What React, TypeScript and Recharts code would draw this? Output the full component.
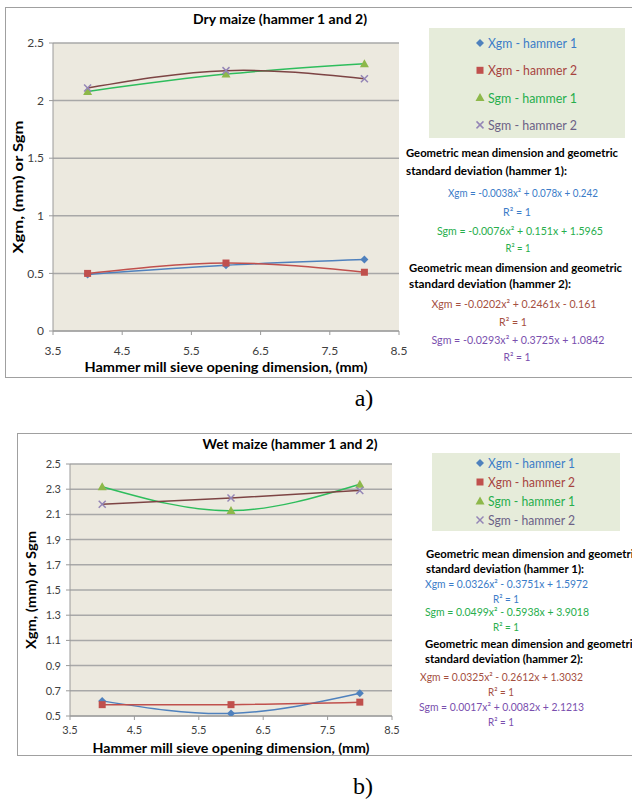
import React from 'react';
import { LineChart, Line, XAxis, YAxis, CartesianGrid, Legend } from 'recharts';

// sieve opening dimension (mm)
const sieveSizes = [4, 6, 8];
const xTicks = [3.5, 4.5, 5.5, 6.5, 7.5, 8.5];

// dry maize
const dryXgmHammer1 = [0.49, 0.57, 0.62];
const dryXgmHammer2 = [0.5, 0.59, 0.51];
const drySgmHammer1 = [2.08, 2.23, 2.32];
const drySgmHammer2 = [2.11, 2.26, 2.19];
const dryYTicks = [0, 0.5, 1, 1.5, 2, 2.5];

// wet maize
const wetXgmHammer1 = [0.62, 0.52, 0.68];
const wetXgmHammer2 = [0.59, 0.59, 0.61];
const wetSgmHammer1 = [2.32, 2.13, 2.34];
const wetSgmHammer2 = [2.18, 2.23, 2.29];
const wetYTicks = [0.5, 0.7, 0.9, 1.1, 1.3, 1.5, 1.7, 1.9, 2.1, 2.3, 2.5];

const seriesNames = ['Xgm - hammer 1', 'Xgm - hammer 2', 'Sgm - hammer 1', 'Sgm - hammer 2'];
const dryEquations = [
  'Xgm = -0.0038x\u00b2 + 0.078x + 0.242',
  'Sgm = -0.0076x\u00b2 + 0.151x + 1.5965',
  'Xgm = -0.0202x\u00b2 + 0.2461x - 0.161',
  'Sgm = -0.0293x\u00b2 + 0.3725x + 1.0842',
];
const wetEquations = [
  'Xgm = 0.0326x\u00b2 - 0.3751x + 1.5972',
  'Sgm = 0.0499x\u00b2 - 0.5938x + 3.9018',
  'Xgm = 0.0325x\u00b2 - 0.2612x + 1.3032',
  'Sgm = 0.0017x\u00b2 + 0.0082x + 2.1213',
];

const FONT = 'Lato, "Liberation Sans", sans-serif';

const SERIES = [
  { key: 'xgm1', stroke: '#4f81bd', mark: '#4f81bd', text: '#3b7cc8', shape: 'diamond' },
  { key: 'xgm2', stroke: '#c0504d', mark: '#c0504d', text: '#a6433e', shape: 'square' },
  { key: 'sgm1', stroke: '#2ebd5c', mark: '#8db84a', text: '#27ae4c', shape: 'triangle' },
  { key: 'sgm2', stroke: '#7d4444', mark: '#9485b6', text: '#6c6286', shape: 'cross' },
];
const eqColors = ['#3b7cc8', '#27ae4c', '#a5503f', '#7a4fae'];

const toRows = (a: number[], b: number[], c: number[], d: number[]) =>
  sieveSizes.map((x, i) => ({ x, xgm1: a[i], xgm2: b[i], sgm1: c[i], sgm2: d[i] }));

const dryRows = toRows(dryXgmHammer1, dryXgmHammer2, drySgmHammer1, drySgmHammer2);
const wetRows = toRows(wetXgmHammer1, wetXgmHammer2, wetSgmHammer1, wetSgmHammer2);

const Marker = ({ cx, cy, shape, color }: any) => {
  if (cx == null || cy == null) return null;
  if (shape === 'diamond')
    return <polygon points={`${cx},${cy - 4} ${cx + 4},${cy} ${cx},${cy + 4} ${cx - 4},${cy}`} fill={color} />;
  if (shape === 'square') return <rect x={cx - 3.5} y={cy - 3.5} width={7} height={7} fill={color} />;
  if (shape === 'triangle')
    return <polygon points={`${cx},${cy - 4.5} ${cx + 4.5},${cy + 3.5} ${cx - 4.5},${cy + 3.5}`} fill={color} />;
  return (
    <g stroke={color} strokeWidth={1.5}>
      <line x1={cx - 3.5} y1={cy - 3.5} x2={cx + 3.5} y2={cy + 3.5} />
      <line x1={cx - 3.5} y1={cy + 3.5} x2={cx + 3.5} y2={cy - 3.5} />
    </g>
  );
};

const AxisTitle = ({ px, py, vertical, text, len, size }: any) => (
  <text
    x={px}
    y={py}
    transform={vertical ? `rotate(-90, ${px}, ${py})` : undefined}
    textAnchor="middle"
    dominantBaseline="central"
    fontFamily={FONT}
    fontWeight="bold"
    fontSize={size || 14}
    fill="#000"
    textLength={len}
    lengthAdjust="spacingAndGlyphs"
  >
    {text}
  </text>
);

type Txt = { t: string; x: number; y: number; len: number; color?: string; bold?: boolean; anchor?: string; size?: number };

const makeLegend = (w: number, h: number, firstY: number, gap: number, markX: number, textLen: number) => () => (
  <svg width={w} height={h} style={{ display: 'block' }}>
    <rect x={0} y={0} width={w} height={h} fill="#e6ecda" />
    {SERIES.map((s, i) => (
      <g key={s.key}>
        <Marker cx={markX} cy={firstY + i * gap} shape={s.shape} color={s.mark} />
        <text
          x={markX + 8}
          y={firstY + i * gap}
          dominantBaseline="central"
          fontFamily={FONT}
          fontSize={13}
          fill={s.text}
          textLength={textLen}
          lengthAdjust="spacingAndGlyphs"
        >
          {seriesNames[i]}
        </text>
      </g>
    ))}
  </svg>
);

type PanelProps = {
  rows: any[];
  top: number;
  height: number;
  margin: { top: number; right: number; bottom: number; left: number };
  yWidth: number;
  yDomain: [number, number];
  yTicks: number[];
  yFormat: (v: number) => string;
  tickFont: number;
  xTickMargin: number;
  yTitle: { x: number; len: number };
  xTitle: { y: number; len: number; size: number };
  legendBox: { left: number; top: number; w: number; h: number; firstY: number; gap: number; markX: number; textLen: number };
};

const Panel = (p: PanelProps) => {
  const plotH = p.height - p.margin.top - p.margin.bottom - 30;
  const plotW = 632 - p.margin.left - p.margin.right - p.yWidth;
  const tickStyle = { fontFamily: FONT, fontSize: p.tickFont, fill: '#404040' };
  return (
    <div style={{ position: 'absolute', left: 0, top: p.top }}>
      <LineChart width={632} height={p.height} data={p.rows} margin={p.margin}>
        <CartesianGrid vertical={false} stroke="#a8a8a8" strokeWidth={1.5} fill="#ece9df" fillOpacity={1} />
        <XAxis
          type="number"
          dataKey="x"
          domain={[3.5, 8.5]}
          ticks={xTicks}
          allowDataOverflow
          height={30}
          stroke="#9a9a9a"
          tickSize={4}
          tickMargin={p.xTickMargin}
          tick={tickStyle}
          tickFormatter={(v: number) => v.toFixed(1)}
          label={
            <AxisTitle
              px={p.yWidth + p.margin.left + plotW / 2}
              py={p.xTitle.y}
              text="Hammer mill sieve opening  dimension, (mm)"
              len={p.xTitle.len}
              size={p.xTitle.size}
            />
          }
        />
        <YAxis
          type="number"
          domain={p.yDomain}
          ticks={p.yTicks}
          allowDataOverflow
          width={p.yWidth}
          stroke="#9a9a9a"
          tickSize={4}
          tickMargin={5}
          tick={tickStyle}
          tickFormatter={p.yFormat}
          label={
            <AxisTitle
              px={p.yTitle.x}
              py={p.margin.top + plotH / 2}
              vertical
              text="Xgm, (mm) or Sgm"
              len={p.yTitle.len}
            />
          }
        />
        <Legend
          layout="vertical"
          align="center"
          verticalAlign="middle"
          wrapperStyle={{ left: p.legendBox.left, top: p.legendBox.top, width: p.legendBox.w, height: p.legendBox.h }}
          content={makeLegend(
            p.legendBox.w,
            p.legendBox.h,
            p.legendBox.firstY,
            p.legendBox.gap,
            p.legendBox.markX,
            p.legendBox.textLen
          )}
        />
        {SERIES.map((s, i) => (
          <Line
            key={s.key}
            type="natural"
            dataKey={s.key}
            name={seriesNames[i]}
            stroke={s.stroke}
            strokeWidth={1.5}
            isAnimationActive={false}
            activeDot={false}
            dot={(d: any) => <Marker key={`${s.key}-${d.index}`} cx={d.cx} cy={d.cy} shape={s.shape} color={s.mark} />}
          />
        ))}
      </LineChart>
    </div>
  );
};

const overlayTexts: Txt[] = [
  // a) dry maize
  { t: 'Dry maize (hammer 1 and 2)', x: 280, y: 19, len: 174, bold: true, anchor: 'middle', size: 13.5 },
  { t: 'Geometric mean dimension and geometric', x: 406, y: 152, len: 212, bold: true },
  { t: 'standard  deviation (hammer 1):', x: 406, y: 170, len: 161, bold: true },
  { t: dryEquations[0], x: 523, y: 193, len: 150, color: eqColors[0], anchor: 'middle' },
  { t: 'R\u00b2 = 1', x: 517, y: 212, len: 28, color: eqColors[0], anchor: 'middle' },
  { t: dryEquations[1], x: 520, y: 231, len: 166, color: eqColors[1], anchor: 'middle' },
  { t: 'R\u00b2 = 1', x: 518, y: 248, len: 25, color: eqColors[1], anchor: 'middle' },
  { t: 'Geometric mean dimension and geometric', x: 409, y: 267, len: 213, bold: true },
  { t: 'standard  deviation (hammer 2):', x: 409, y: 283, len: 162, bold: true },
  { t: dryEquations[2], x: 514, y: 304, len: 165, color: eqColors[2], anchor: 'middle' },
  { t: 'R\u00b2 = 1', x: 513, y: 322, len: 28, color: eqColors[2], anchor: 'middle' },
  { t: dryEquations[3], x: 518, y: 340, len: 173, color: eqColors[3], anchor: 'middle' },
  { t: 'R\u00b2 = 1', x: 517, y: 357, len: 27, color: eqColors[3], anchor: 'middle' },
  // b) wet maize
  { t: 'Wet maize (hammer 1 and 2)', x: 290, y: 444, len: 175, bold: true, anchor: 'middle', size: 13.5 },
  { t: 'Geometric mean dimension and geometric', x: 426, y: 553, len: 213, bold: true },
  { t: 'standard  deviation (hammer 1):', x: 426, y: 568, len: 158, bold: true },
  { t: wetEquations[0], x: 425, y: 584, len: 163, color: eqColors[0] },
  { t: 'R\u00b2 = 1', x: 506, y: 599, len: 26, color: eqColors[0], anchor: 'middle' },
  { t: wetEquations[1], x: 425, y: 612, len: 164, color: eqColors[1] },
  { t: 'R\u00b2 = 1', x: 506, y: 627, len: 26, color: eqColors[1], anchor: 'middle' },
  { t: 'Geometric mean dimension and geometric', x: 425, y: 643, len: 213, bold: true },
  { t: 'standard  deviation (hammer 2):', x: 425, y: 658, len: 158, bold: true },
  { t: wetEquations[2], x: 420, y: 677, len: 163, color: eqColors[2] },
  { t: 'R\u00b2 = 1', x: 501, y: 692, len: 26, color: eqColors[2], anchor: 'middle' },
  { t: wetEquations[3], x: 419, y: 707, len: 165, color: eqColors[3] },
  { t: 'R\u00b2 = 1', x: 501, y: 722, len: 26, color: eqColors[3], anchor: 'middle' },
];

export default function App() {
  return (
    <div
      style={{
        position: 'absolute',
        left: 0,
        top: 0,
        width: 632,
        height: 801,
        overflow: 'hidden',
        background: '#fff',
      }}
    >
      <div style={{ position: 'absolute', left: 5, top: 7, width: 640, height: 369, border: '1.5px solid #a0a0a0' }} />
      <div style={{ position: 'absolute', left: 17, top: 433, width: 640, height: 321, border: '1.5px solid #a0a0a0' }} />

      <Panel
        rows={dryRows}
        top={0}
        height={380}
        margin={{ top: 43, right: 233, bottom: 19, left: 0 }}
        yWidth={53}
        yDomain={[0, 2.5]}
        yTicks={dryYTicks}
        yFormat={(v) => String(v)}
        tickFont={12}
        xTickMargin={11}
        yTitle={{ x: 17, len: 133 }}
        xTitle={{ y: 366, len: 283, size: 14 }}
        legendBox={{ left: 429, top: 28, w: 196, h: 110, firstY: 15, gap: 27.3, markX: 51, textLen: 89 }}
      />
      <Panel
        rows={wetRows}
        top={420}
        height={381}
        margin={{ top: 44, right: 240, bottom: 55, left: 0 }}
        yWidth={70}
        yDomain={[0.5, 2.5]}
        yTicks={wetYTicks}
        yFormat={(v) => v.toFixed(1)}
        tickFont={11}
        xTickMargin={6}
        yTitle={{ x: 30, len: 118 }}
        xTitle={{ y: 327.5, len: 277, size: 13 }}
        legendBox={{ left: 432, top: 33, w: 188, h: 78, firstY: 10, gap: 19, markX: 48, textLen: 87 }}
      />

      <svg width={632} height={801} style={{ position: 'absolute', left: 0, top: 0, pointerEvents: 'none' }}>
        {overlayTexts.map((o, i) => (
          <text
            key={i}
            x={o.x}
            y={o.y}
            textAnchor={(o.anchor as any) || 'start'}
            dominantBaseline="central"
            fontFamily={FONT}
            fontWeight={o.bold ? 'bold' : 'normal'}
            fontSize={o.size || (o.bold ? 11 : 10.5)}
            fill={o.color || '#000'}
            textLength={o.len}
            lengthAdjust="spacingAndGlyphs"
          >
            {o.t}
          </text>
        ))}
        <text x={364} y={398} textAnchor="middle" dominantBaseline="central" fontFamily='"Liberation Serif", serif' fontSize={24}>
          a)
        </text>
        <text x={363} y={786} textAnchor="middle" dominantBaseline="central" fontFamily='"Liberation Serif", serif' fontSize={24}>
          b)
        </text>
      </svg>
    </div>
  );
}
